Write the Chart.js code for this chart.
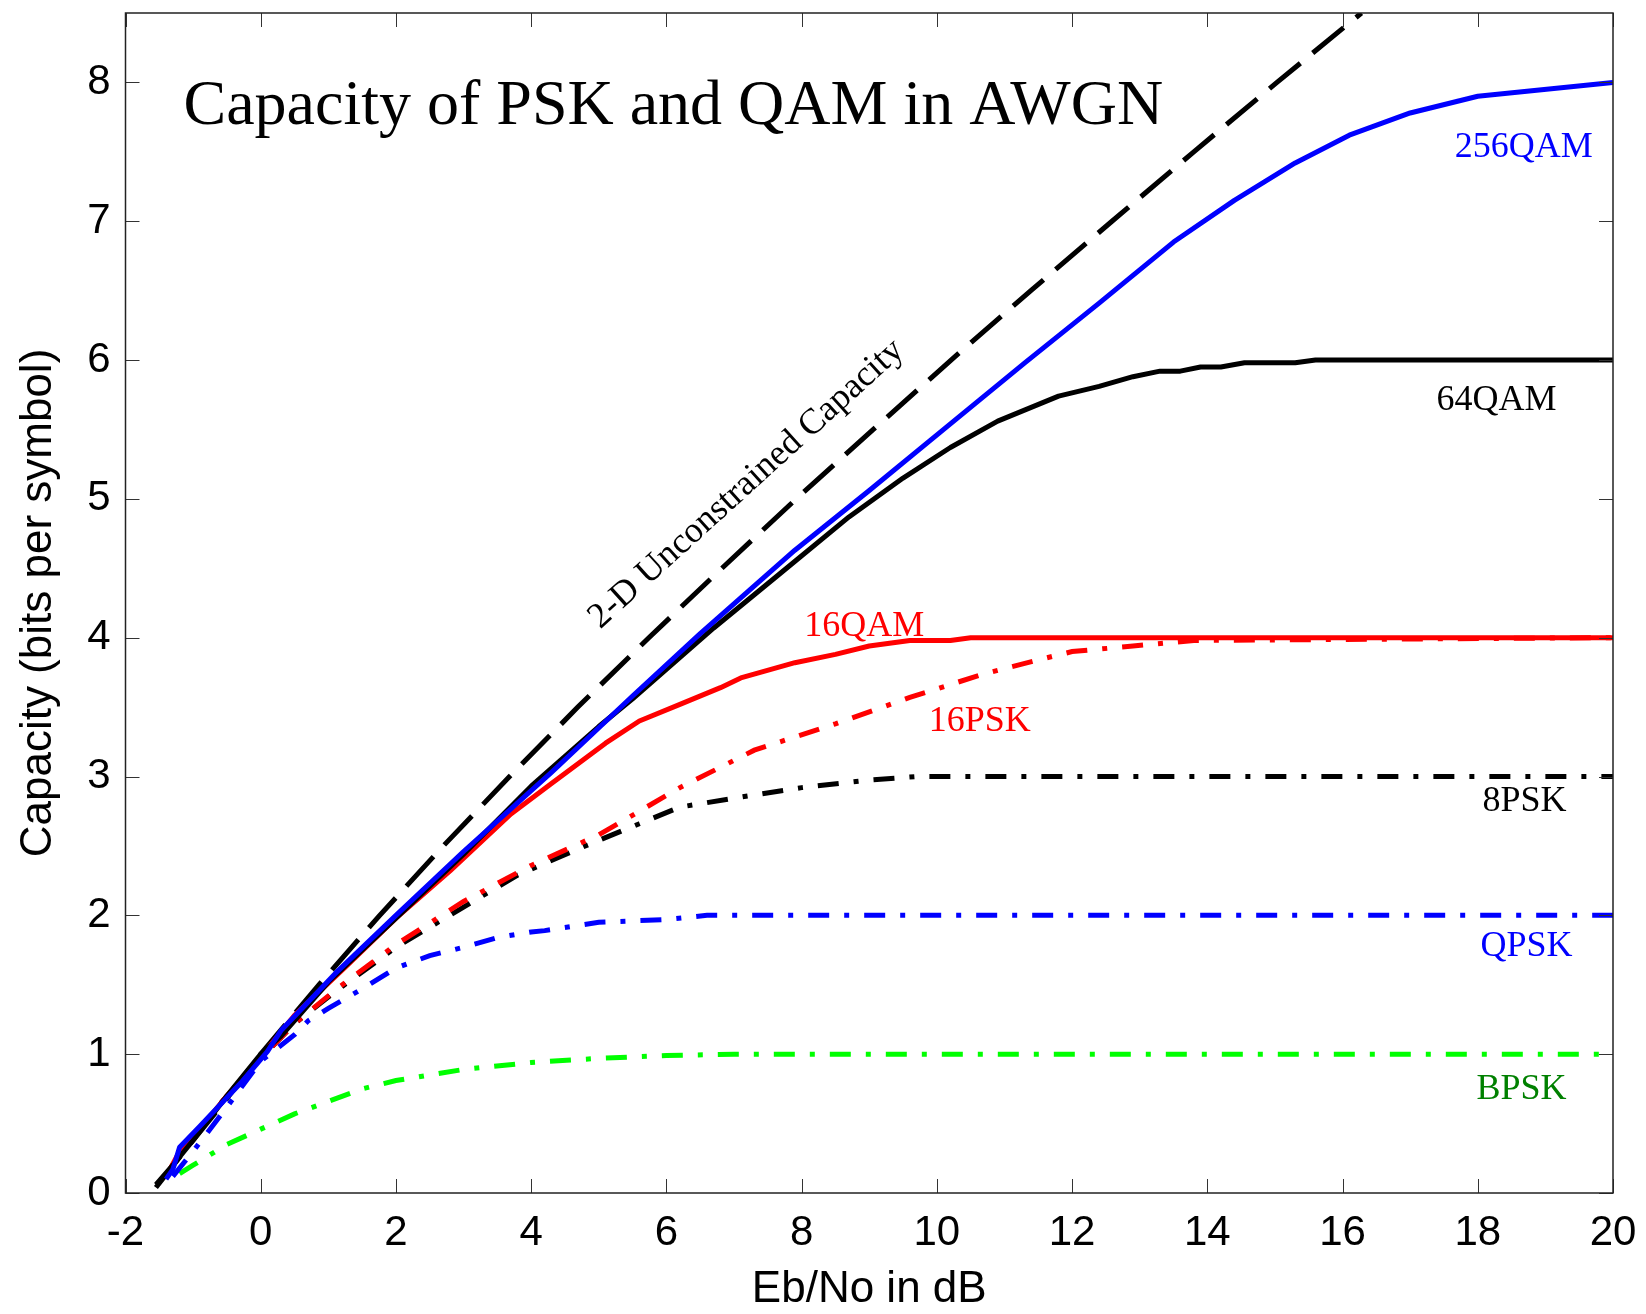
<!DOCTYPE html>
<html>
<head>
<meta charset="utf-8">
<style>
  html, body { margin: 0; padding: 0; background: #fff; }
  #wrap { width: 1646px; height: 1314px; }
</style>
<script src="https://cdn.jsdelivr.net/npm/chart.js@4/dist/chart.umd.min.js"></script>
</head>
<body>
<div id="wrap"><canvas id="cap" width="1646" height="1314"></canvas></div>
<script>
// Axis ticks
const ebnoTicks = [-2, 0, 2, 4, 6, 8, 10, 12, 14, 16, 18, 20];
const capTicks = [0, 1, 2, 3, 4, 5, 6, 7, 8];

// Shannon bound for a 2-D signal set (Eb/No in dB, bits per symbol)
const unconstrainedEbNo = [-1.55, -1.05, -0.55, 0.0, 0.86, 1.76, 2.7, 3.68, 4.69, 5.74, 6.82, 7.92, 9.06, 10.21, 11.39, 12.59, 13.8, 15.03, 16.28];
const unconstrainedCap  = [0.04, 0.35, 0.65, 1.0, 1.5, 2.0, 2.5, 3.0, 3.5, 4.0, 4.5, 5.0, 5.5, 6.0, 6.5, 7.0, 7.5, 8.0, 8.5];

// 256QAM
const qam256EbNo = [-1.4, -1.3, -1.2, -0.9, -0.3, 0.1, 0.3, 1.1, 2.0, 3.0, 4.3, 5.5, 6.5, 7.9, 9.0, 10.2, 11.3, 12.4, 13.5, 14.4, 15.3, 16.1, 17.0, 18.0, 20.0];
const qam256Cap  = [0.1, 0.17, 0.33, 0.48, 0.79, 1.02, 1.17, 1.58, 2.0, 2.46, 3.03, 3.58, 4.03, 4.63, 5.06, 5.54, 5.98, 6.41, 6.85, 7.15, 7.42, 7.62, 7.78, 7.9, 8.0];

// 64QAM
const qam64EbNo = [-1.55, -1.3, -1.0, -0.5, 0.0, 0.3, 1.0, 2.0, 3.0, 4.0, 5.0, 5.5, 6.7, 7.7, 8.7, 9.5, 10.2, 10.9, 11.8, 12.4, 12.9, 13.3, 13.6, 13.9, 14.2, 14.55, 15.3, 15.6, 20.0];
const qam64Cap  = [0.06, 0.2, 0.38, 0.7, 1.0, 1.13, 1.52, 1.98, 2.44, 2.93, 3.36, 3.56, 4.07, 4.47, 4.87, 5.15, 5.37, 5.56, 5.74, 5.81, 5.88, 5.92, 5.92, 5.95, 5.95, 5.98, 5.98, 6.0, 6.0];

// 16QAM
const qam16EbNo = [-1.4, -1.2, -1.0, -0.5, 0.0, 0.5, 1.3, 2.0, 2.8, 3.7, 4.3, 5.1, 5.6, 6.2, 6.8, 7.1, 7.9, 8.5, 9.0, 9.6, 10.2, 10.5, 20.0];
const qam16Cap  = [0.12, 0.3, 0.4, 0.7, 0.98, 1.28, 1.65, 1.98, 2.32, 2.73, 2.95, 3.24, 3.4, 3.52, 3.64, 3.71, 3.82, 3.88, 3.94, 3.98, 3.98, 4.0, 4.0];

// 16PSK
const psk16EbNo = [-1.4, -1.2, -1.0, -0.5, 0.0, 0.5, 1.1, 2.0, 3.0, 4.0, 5.0, 6.2, 7.3, 8.5, 9.6, 10.7, 11.5, 12.0, 12.9, 13.8, 20.0];
const psk16Cap  = [0.12, 0.28, 0.4, 0.7, 0.97, 1.22, 1.46, 1.79, 2.1, 2.36, 2.58, 2.92, 3.19, 3.38, 3.57, 3.74, 3.84, 3.9, 3.94, 3.98, 4.0];

// 8PSK
const psk8EbNo = [-1.4, -1.2, -1.0, -0.5, 0.0, 0.5, 1.1, 2.0, 3.0, 3.8, 4.8, 5.6, 6.2, 7.2, 8.0, 8.9, 9.7, 20.0];
const psk8Cap  = [0.12, 0.28, 0.4, 0.7, 0.97, 1.22, 1.45, 1.77, 2.06, 2.29, 2.5, 2.66, 2.78, 2.86, 2.92, 2.97, 3.0, 3.0];

// QPSK
const qpskEbNo = [-1.3, -1.0, -0.5, 0.0, 0.5, 0.7, 1.0, 1.5, 2.0, 2.5, 3.0, 3.5, 4.0, 4.2, 5.0, 6.0, 6.6, 20.0];
const qpskCap  = [0.12, 0.3, 0.62, 0.95, 1.14, 1.24, 1.33, 1.47, 1.62, 1.71, 1.77, 1.84, 1.88, 1.89, 1.95, 1.97, 2.0, 2.0];

// BPSK
const bpskEbNo = [-1.2, -1.0, -0.5, 0.0, 0.5, 1.0, 1.5, 2.0, 3.0, 4.0, 5.0, 6.0, 7.0, 8.0, 10.0, 20.0];
const bpskCap  = [0.14, 0.2, 0.35, 0.46, 0.57, 0.66, 0.75, 0.81, 0.89, 0.94, 0.97, 0.99, 1.0, 1.0, 1.0, 1.0];

const pairs = (xs, ys) => xs.map((x, i) => ({ x: x, y: ys[i] }));

const DASH = [40, 16];
const DASH_DOT = [21, 15, 5, 15];

function series(label, xs, ys, color, dash) {
  return {
    label: label,
    data: pairs(xs, ys),
    borderColor: color,
    borderWidth: 5,
    borderDash: dash || [],
    borderCapStyle: 'butt',
    borderJoinStyle: dash ? 'miter' : 'round',
    pointRadius: 0,
    tension: 0,
    fill: false
  };
}

// Curve names written inside the plot, anchored in data units
const curveNotes = [
  { text: '256QAM', x: 17.66, y: 7.46, color: '#0000ff' },
  { text: '64QAM',  x: 17.39, y: 5.64, color: '#000000' },
  { text: '16QAM',  x: 8.04,  y: 4.01, color: '#ff0000' },
  { text: '16PSK',  x: 9.88,  y: 3.33, color: '#ff0000' },
  { text: '8PSK',   x: 18.07, y: 2.75, color: '#000000' },
  { text: 'QPSK',   x: 18.04, y: 1.71, color: '#0000ff' },
  { text: 'BPSK',   x: 17.98, y: 0.68, color: '#008000' }
];
const boundNote = { text: '2-D Unconstrained Capacity', x: 5.02, y: 4.06, angle: -42.2 };
const plotTitle = 'Capacity of PSK and QAM in AWGN';

const SERIF = '"Liberation Serif", "Times New Roman", serif';
const SANS = '"Liberation Sans", Arial, sans-serif';

const frame = {
  id: 'frame',
  afterDatasetsDraw(chart) {
    const ctx = chart.ctx;
    const a = chart.chartArea;
    const xs = chart.scales.x, ys = chart.scales.y;
    ctx.save();
    // inward tick marks on all four sides
    ctx.strokeStyle = '#333';
    ctx.lineWidth = 1;
    const TL = 14;
    ctx.beginPath();
    ebnoTicks.forEach(v => {
      const px = Math.round(xs.getPixelForValue(v)) + 0.5;
      ctx.moveTo(px, a.bottom); ctx.lineTo(px, a.bottom - TL);
      ctx.moveTo(px, a.top); ctx.lineTo(px, a.top + TL);
    });
    capTicks.forEach(v => {
      const py = Math.round(ys.getPixelForValue(v)) + 0.5;
      ctx.moveTo(a.left, py); ctx.lineTo(a.left + TL, py);
      ctx.moveTo(a.right, py); ctx.lineTo(a.right - TL, py);
    });
    ctx.stroke();
    // plot box
    ctx.strokeStyle = '#222';
    ctx.lineWidth = 1.5;
    ctx.strokeRect(a.left, a.top, a.right - a.left, a.bottom - a.top);

    // title
    ctx.fillStyle = '#000';
    ctx.font = '64px ' + SERIF;
    ctx.textAlign = 'left';
    ctx.textBaseline = 'alphabetic';
    ctx.fillText(plotTitle, a.left + 58, a.top + 111);

    // curve names
    ctx.font = '36px ' + SERIF;
    curveNotes.forEach(n => {
      ctx.fillStyle = n.color;
      ctx.fillText(n.text, xs.getPixelForValue(n.x), ys.getPixelForValue(n.y));
    });

    // bound label, drawn along the dashed curve
    ctx.save();
    ctx.translate(xs.getPixelForValue(boundNote.x), ys.getPixelForValue(boundNote.y));
    ctx.rotate(boundNote.angle * Math.PI / 180);
    ctx.fillStyle = '#000';
    ctx.fillText(boundNote.text, 0, 0);
    ctx.restore();
    ctx.restore();
  }
};

// keep the plot box fixed: no extra room reserved for overhanging tick labels
function noOverhang(s) {
  s.paddingTop = 0; s.paddingBottom = 0; s.paddingLeft = 0; s.paddingRight = 0;
}

new Chart(document.getElementById('cap'), {
  type: 'line',
  data: {
    datasets: [
      series('256QAM', qam256EbNo, qam256Cap, '#0000ff'),
      series('64QAM', qam64EbNo, qam64Cap, '#000000'),
      series('16QAM', qam16EbNo, qam16Cap, '#ff0000'),
      series('2-D Unconstrained Capacity', unconstrainedEbNo, unconstrainedCap, '#000000', DASH),
      series('16PSK', psk16EbNo, psk16Cap, '#ff0000', DASH_DOT),
      series('8PSK', psk8EbNo, psk8Cap, '#000000', DASH_DOT),
      series('QPSK', qpskEbNo, qpskCap, '#0000ff', DASH_DOT),
      series('BPSK', bpskEbNo, bpskCap, '#00ff00', DASH_DOT)
    ]
  },
  options: {
    responsive: false,
    animation: false,
    devicePixelRatio: 1,
    layout: { padding: { top: 13, right: 33, left: 0, bottom: 0 } },
    plugins: { legend: { display: false }, tooltip: { enabled: false } },
    scales: {
      x: {
        type: 'linear',
        min: -2, max: 20,
        grid: { display: false, drawTicks: false },
        border: { display: false },
        afterBuildTicks: s => { s.ticks = ebnoTicks.map(v => ({ value: v })); },
        afterFit: s => { s.height = 121; noOverhang(s); },
        ticks: {
          color: '#000',
          padding: 19,
          maxRotation: 0,
          autoSkip: false,
          font: { family: SANS, size: 42, lineHeight: 1 },
          callback: v => String(v)
        },
        title: {
          display: true,
          text: 'Eb/No in dB',
          color: '#000',
          font: { family: SANS, size: 44, lineHeight: 1 },
          padding: { top: 0, bottom: 2 }
        }
      },
      y: {
        type: 'linear',
        min: 0, max: 8.5,
        grid: { display: false, drawTicks: false },
        border: { display: false },
        afterBuildTicks: s => { s.ticks = capTicks.map(v => ({ value: v })); },
        afterFit: s => { s.width = 125.5; noOverhang(s); },
        ticks: {
          color: '#000',
          padding: 15,
          autoSkip: false,
          font: { family: SANS, size: 42, lineHeight: 1 },
          callback: v => String(v)
        },
        title: {
          display: true,
          text: 'Capacity (bits per symbol)',
          color: '#000',
          font: { family: SANS, size: 44, lineHeight: 1 },
          padding: { top: 17, bottom: 0 }
        }
      }
    }
  },
  plugins: [frame]
});
</script>
</body>
</html>
